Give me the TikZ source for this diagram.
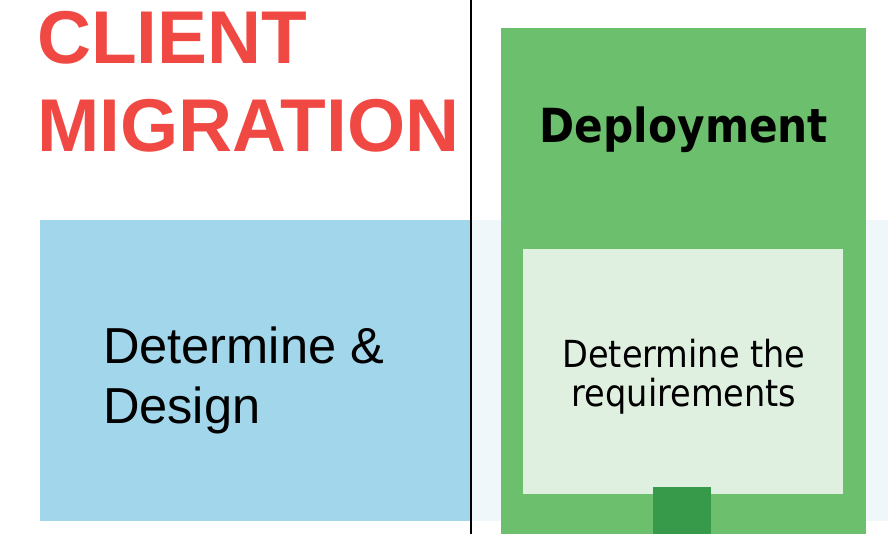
\documentclass[tikz,border=0pt]{standalone}
\usepackage{fontspec}
\setmainfont{Liberation Sans}
\newfontfamily\narrowsans[FakeStretch=0.9]{DejaVu Sans}
\definecolor{titlered}{HTML}{F04944}
\definecolor{skyblue}{HTML}{A1D6EB}
\definecolor{paleblue}{HTML}{F0F7FB}
\definecolor{leafgreen}{HTML}{6CBF6C}
\definecolor{mintgreen}{HTML}{E0F0E0}
\definecolor{forestgreen}{HTML}{379A4A}

\begin{document}
\begin{tikzpicture}[x=1pt, y=-1pt,
                   every node/.style={inner sep=0pt, outer sep=0pt},
                   block/.style={anchor=north west, draw=none},
                   label text/.style={text=black}]
	\useasboundingbox (0,0) rectangle (888,534);
	% background bands
	\node[block, fill=paleblue, minimum width=417pt, minimum height=301pt] (band) at (471,220) {};
	\node[block, fill=skyblue, minimum width=431pt, minimum height=301pt] (design) at (40,220) {};
	% deployment column
	\node[block, fill=leafgreen, minimum width=365pt, minimum height=506pt] (deploy) at (501,28) {};
	\node[block, fill=mintgreen, minimum width=320pt, minimum height=245pt] (req) at (523,249) {};
	\node[block, fill=forestgreen, minimum width=58pt, minimum height=47pt] (stub) at (653,487) {};
	% divider
	\coordinate (divtop) at (471,0);
	\coordinate (divbot) at (471,534);
	\draw[line width=1.3pt] (divtop) -- (divbot);
	% texts
	\node[anchor=north west, align=left, text=titlered,
	      font=\bfseries\fontsize{74.8}{88.5}\selectfont] (title) at (37,11) {CLIENT\\MIGRATION};
	\node[label text, anchor=north west, align=left,
	      font=\fontsize{50.6}{60}\selectfont] (ddtext) at (103,327) {Determine \&\\Design};
	\node[label text, anchor=base,
	      font=\narrowsans\bfseries\fontsize{47}{50}\selectfont] (deptitle) at (684,143) {Deployment};
	\node[label text, anchor=north, align=center,
	      font=\narrowsans\fontsize{37.3}{39}\selectfont] (reqtext) at (684,339) {Determine the\\requirements};
\end{tikzpicture}
\end{document}
